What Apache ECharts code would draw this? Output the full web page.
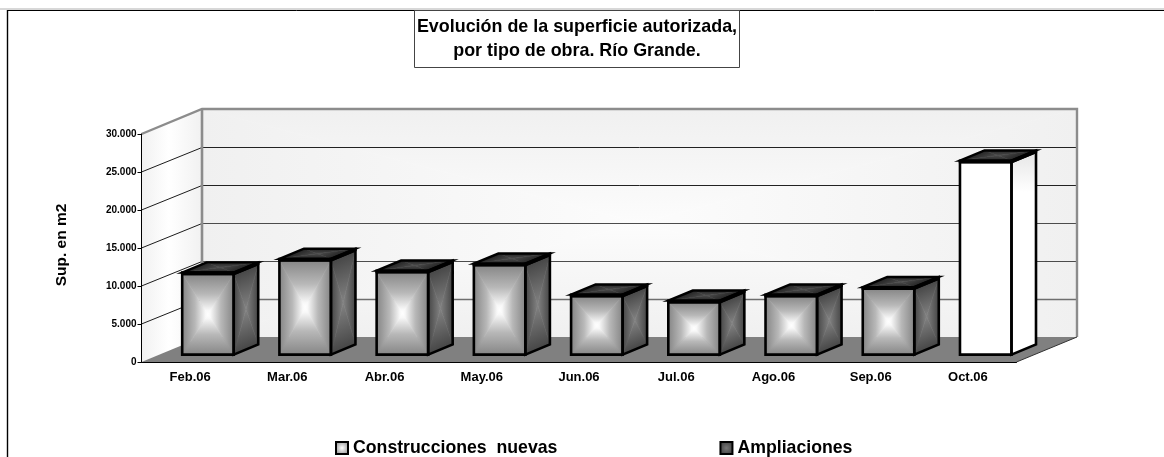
<!DOCTYPE html>
<html>
<head>
<meta charset="utf-8">
<style>html,body{margin:0;padding:0;background:#fff}#c{width:1164px;height:457px}</style>
<script src="https://cdn.jsdelivr.net/npm/echarts@6/dist/echarts.min.js"></script>
</head>
<body>
<div id="c"></div>
<script>
const categories = ['Feb.06','Mar.06','Abr.06','May.06','Jun.06','Jul.06','Ago.06','Sep.06','Oct.06'];
const construccionesNuevas = [10600,12400,10850,11770,7700,6900,7700,8680,25330];
const ampliaciones = [200,200,200,200,200,200,200,200,200];
const yTicks = [0,5000,10000,15000,20000,25000,30000];
const flatFill = [false,false,false,false,false,false,false,false,true];

const FONT = '"Liberation Sans", Arial, sans-serif';
const DX = 60.5, DY = 25, D0 = 0.295, D1 = 0.7, BAR = 0.53;
const LG = echarts.graphic.LinearGradient;
const gridStyles = [null,
  {stroke:'#6e6e6e',lineWidth:1.5},
  {stroke:'#4c4c4c',lineWidth:1.2},
  {stroke:'#4c4c4c',lineWidth:1.2},
  {stroke:'#222222',lineWidth:1},
  {stroke:'#222222',lineWidth:1}];

function foot(p, a, b) {
  const ux = b[0]-a[0], uy = b[1]-a[1], t = ((p[0]-a[0])*ux + (p[1]-a[1])*uy) / (ux*ux+uy*uy);
  return [a[0]+t*ux, a[1]+t*uy];
}
// "from centre" shaded quad built from four triangles
function shaded(q, stops) {
  const m = [(q[0][0]+q[2][0])/2, (q[0][1]+q[2][1])/2];
  const out = [];
  for (let k = 0; k < 4; k++) {
    const a = q[k], b = q[(k+1)%4], f = foot(m, a, b);
    const g = new LG(f[0], f[1], m[0], m[1], stops, true);
    out.push({type:'polygon', shape:{points:[a,b,m]}, style:{fill:g, stroke:g, lineWidth:0.6}, silent:true});
  }
  return out;
}
function outline(q, w) {
  return {type:'polygon', shape:{points:q}, style:{fill:'none', stroke:'#000', lineWidth:w, lineJoin:'miter'}, silent:true};
}
const FRONT = [{offset:0,color:'#868686'},{offset:0.5,color:'#b8b8b8'},{offset:0.9,color:'#f8f8f8'},{offset:1,color:'#ffffff'}];
const SIDE  = [{offset:0,color:'#464646'},{offset:1,color:'#828282'}];
const TOP   = [{offset:0,color:'#232323'},{offset:1,color:'#4c4c4c'}];
const WALL  = [{offset:0,color:'#f0f0f0'},{offset:1,color:'#fcfcfc'}];

function geom(api, i, from, to) {
  const p0 = api.coord([i, from]), p1 = api.coord([i, to]);
  const band = api.size([1,0])[0], hw = band*BAR/2;
  const cx = p0[0] + D0*DX;
  return {x0:cx-hw, x1:cx+hw, yb:p0[1]-D0*DY, yt:p1[1]-D0*DY, sx:(D1-D0)*DX, sy:(D1-D0)*DY};
}

function renderWalls(params, api) {
  const o = api.coord([0, yTicks[0]]);
  const band = api.size([1,0])[0];
  const L = o[0]-band/2, R = L+band*categories.length, B = o[1];
  const T = api.coord([0, yTicks[yTicks.length-1]])[1];
  const children = [];
  const bl = [L+DX,B-DY], br = [R+DX,B-DY], tl = [L+DX,T-DY], tr = [R+DX,T-DY];
  children.push(...shaded([tl,tr,br,bl], WALL));
  children.push({type:'polygon', shape:{points:[[L,T],tl,bl,[L,B]]}, silent:true, style:{
    fill:new LG(L,0,L+DX,0,[{offset:0,color:'#f1f1f1'},{offset:0.45,color:'#ffffff'},{offset:1,color:'#f1f1f1'}],true)}});
  children.push({type:'polygon', shape:{points:[[L,B],bl,br,[R,B]]}, style:{fill:'#808080'}, silent:true});
  yTicks.forEach(function(v,idx){
    if (idx === 0 || idx === yTicks.length-1) return;
    const y = api.coord([0,v])[1];
    const by = Math.round(y-DY)+0.5;
    children.push({type:'line', shape:{x1:L,y1:y,x2:L+DX,y2:by}, style:{stroke:'#1c1c1c',lineWidth:1}, silent:true});
    children.push({type:'line', shape:{x1:L+DX,y1:by,x2:R+DX,y2:by}, style:gridStyles[idx], silent:true});
  });
  children.push({type:'polyline', shape:{points:[[L,T],tl,tr,br]}, style:{fill:'none',stroke:'#8c8c8c',lineWidth:2.4}, silent:true});
  children.push({type:'line', shape:{x1:tl[0],y1:tl[1],x2:bl[0],y2:bl[1]}, style:{stroke:'#8c8c8c',lineWidth:2.6}, silent:true});
  children.push({type:'line', shape:{x1:R,y1:B,x2:br[0],y2:br[1]}, style:{stroke:'#333',lineWidth:1}, silent:true});
  return {type:'group', children:children};
}

function renderCons(params, api) {
  const i = api.value(0), g = geom(api, i, 0, api.value(1));
  const f = [[g.x0,g.yt],[g.x1,g.yt],[g.x1,g.yb],[g.x0,g.yb]];
  const s = [[g.x1,g.yt],[g.x1+g.sx,g.yt-g.sy],[g.x1+g.sx,g.yb-g.sy],[g.x1,g.yb]];
  const flat = flatFill[i];
  let ch = [];
  if (flat) {
    ch.push({type:'polygon', shape:{points:s}, silent:true, style:{fill:new LG(0,g.yt-g.sy,0,g.yt+30,[{offset:0,color:'#e6e6e6'},{offset:1,color:'#ffffff'}],true)}});
    ch.push({type:'polygon', shape:{points:f}, style:{fill:'#fff'}, silent:true});
  } else {
    ch = ch.concat(shaded(s, SIDE), shaded(f, FRONT));
  }
  ch.push(outline(s,2.6), outline(f,2.6));
  return {type:'group', children:ch};
}

function renderAmp(params, api) {
  const i = api.value(0), g = geom(api, i, api.value(2), api.value(2)+api.value(1));
  const f = [[g.x0,g.yt],[g.x1,g.yt],[g.x1,g.yb],[g.x0,g.yb]];
  const s = [[g.x1,g.yt],[g.x1+g.sx,g.yt-g.sy],[g.x1+g.sx,g.yb-g.sy],[g.x1,g.yb]];
  const t = [[g.x0,g.yt],[g.x0+g.sx,g.yt-g.sy],[g.x1+g.sx,g.yt-g.sy],[g.x1,g.yt]];
  const ch = [].concat(shaded(t, TOP));
  ch.push({type:'polygon', shape:{points:f}, style:{fill:'#222'}, silent:true});
  ch.push({type:'polygon', shape:{points:s}, style:{fill:'#333'}, silent:true});
  ch.push(outline(t,2.4), outline(f,2.4), outline(s,2.4));
  return {type:'group', children:ch};
}

const legendNew = new echarts.graphic.RadialGradient(0.5,0.5,0.6,[{offset:0,color:'#ffffff'},{offset:1,color:'#8a8a8a'}]);
const legendAmp = new echarts.graphic.RadialGradient(0.5,0.5,0.6,[{offset:0,color:'#777777'},{offset:1,color:'#3a3a3a'}]);

const chart = echarts.init(document.getElementById('c'), null, {renderer:'canvas'});
chart.setOption({
  animation:false,
  backgroundColor:'#fff',
  textStyle:{fontFamily:FONT},
  title:{
    text:'Evolución de la superficie autorizada,\npor tipo de obra. Río Grande.',
    left:574, top:10,
    padding:[5,3,5,3],
    borderColor:'#444', borderWidth:1,
    backgroundColor:'#fff',
    textAlign:'center',
    textStyle:{fontFamily:FONT,fontWeight:'bold',fontSize:17.9,color:'#000',lineHeight:24,align:'center'}
  },
  legend:{
    left:335, top:439, padding:0, itemWidth:12, itemHeight:12, itemGap:162,
    selectedMode:false,
    textStyle:{fontFamily:FONT,fontWeight:'bold',fontSize:17.7,color:'#000'},
    data:[
      {name:'Construcciones  nuevas',icon:'rect',itemStyle:{color:legendNew,borderColor:'#000',borderWidth:2}},
      {name:'Ampliaciones',icon:'rect',itemStyle:{color:legendAmp,borderColor:'#000',borderWidth:2}}
    ]
  },
  grid:{left:141.5, top:134, width:875, height:228, containLabel:false},
  xAxis:{
    type:'category', data:categories, z:5,
    axisLine:{lineStyle:{color:'#000',width:1}},
    axisTick:{length:5,lineStyle:{color:'#000'},alignWithLabel:false},
    axisLabel:{fontFamily:FONT,fontWeight:'bold',fontSize:13,color:'#000',margin:9,interval:0},
    splitLine:{show:false}
  },
  yAxis:{
    type:'value', min:0, max:30000, interval:5000, z:5,
    name:'Sup. en m2', nameLocation:'middle', nameGap:72,
    nameTextStyle:{fontFamily:FONT,fontWeight:'bold',fontSize:15.5,color:'#000',padding:[0,0,0,6]},
    axisLine:{show:true,lineStyle:{color:'#000',width:1}},
    axisTick:{show:true,length:4,lineStyle:{color:'#000'}},
    axisLabel:{fontFamily:FONT,fontWeight:'bold',fontSize:10,color:'#000',margin:5,
      formatter:function(v){return String(v).replace(/\B(?=(\d{3})+$)/g,'.');}},
    splitLine:{show:false}
  },
  graphic:[
    {type:'line',shape:{x1:0,y1:9,x2:1164,y2:9},style:{stroke:'#b0b0b0',lineWidth:1},z:0},
    {type:'line',shape:{x1:7,y1:10.5,x2:1164,y2:10.5},style:{stroke:'#000',lineWidth:1},z:0},
    {type:'line',shape:{x1:7.5,y1:10,x2:7.5,y2:457},style:{stroke:'#000',lineWidth:1.4},z:0}
  ],
  series:[
    {type:'custom',name:'walls',renderItem:renderWalls,data:[[0]],z:1,silent:true,clip:false},
    {type:'custom',name:'Construcciones  nuevas',renderItem:renderCons,z:2,silent:true,clip:false,
      encode:{x:0,y:1},
      data:construccionesNuevas.map(function(v,i){return [i,v];})},
    {type:'custom',name:'Ampliaciones',renderItem:renderAmp,z:3,silent:true,clip:false,
      encode:{x:0,y:2},
      data:ampliaciones.map(function(v,i){return [i,v,construccionesNuevas[i]];})}
  ]
});
</script>
</body>
</html>
